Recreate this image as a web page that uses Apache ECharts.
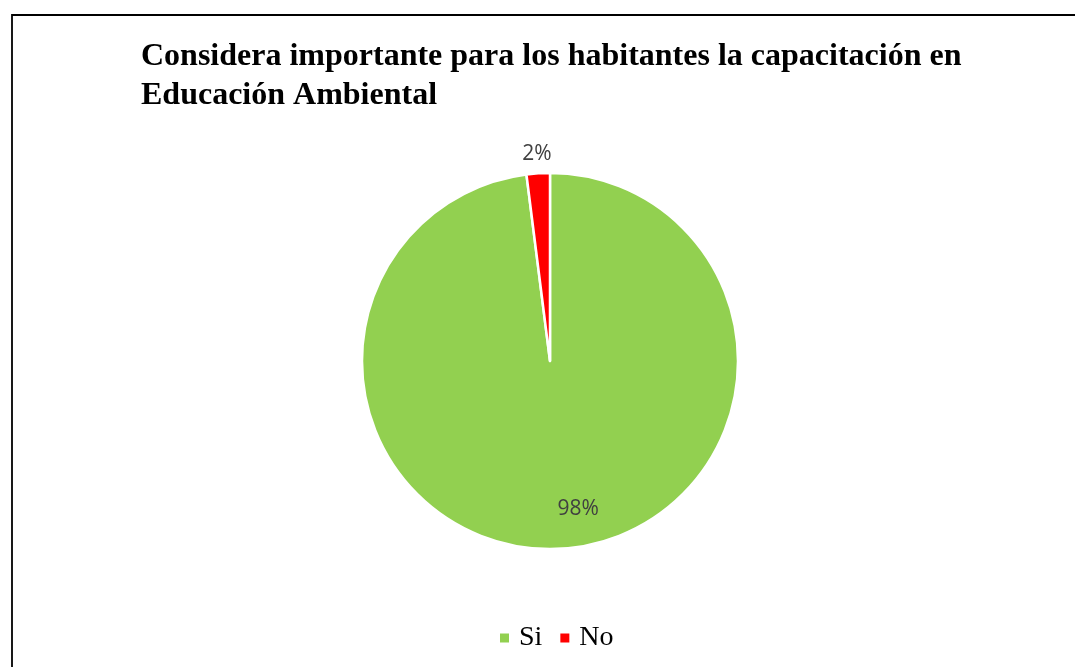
<!DOCTYPE html>
<html>
<head>
<meta charset="utf-8">
<script src="https://cdn.jsdelivr.net/npm/echarts@6/dist/echarts.min.js"></script>
<style>
  html, body { margin: 0; padding: 0; background: #fff; }
  #chart { width: 1075px; height: 667px; }
</style>
</head>
<body>
<div id="chart"></div>
<script>
// Survey answers and their shares (percent)
const categories = ['Si', 'No'];
const values = [98, 2];
const colors = ['#92D050', '#FF0000'];

const titleText = 'Considera importante para los habitantes la capacitación en\nEducación Ambiental';

const CENTER = [550, 361];
const RADIUS = 188;

const total = values.reduce((a, b) => a + b, 0);
// clockwise angle (degrees from 12 o'clock) of the middle of slice i
function midAngle(i) {
  const before = values.slice(0, i).reduce((a, b) => a + b, 0);
  return (before + values[i] / 2) / total * 360;
}
function polar(angleDeg, r) {
  const a = angleDeg * Math.PI / 180;
  return { x: CENTER[0] + r * Math.sin(a), y: CENTER[1] - r * Math.cos(a) };
}

const chart = echarts.init(document.getElementById('chart'));
chart.setOption({
  backgroundColor: '#fff',
  animation: false,
  title: {
    text: titleText,
    left: 136,
    top: 32,
    textStyle: {
      fontFamily: 'Liberation Serif',
      fontWeight: 'bold',
      fontSize: 32,
      lineHeight: 39,
      color: '#000'
    }
  },
  legend: {
    data: categories,
    left: 493,
    top: 619,
    icon: 'rect',
    itemWidth: 11,
    itemHeight: 11,
    itemGap: 16,
    textStyle: {
      fontFamily: 'Liberation Serif',
      fontSize: 28,
      color: '#000',
      padding: [0, 0, 0, 4]
    }
  },
  graphic: [{
    type: 'rect',
    shape: { x: 12, y: 15, width: 1080, height: 700 },
    style: { fill: 'none', stroke: '#000', lineWidth: 1.8 },
    silent: true
  }],
  series: [{
    type: 'pie',
    center: CENTER,
    radius: RADIUS,
    startAngle: 90,
    clockwise: true,
    avoidLabelOverlap: false,
    itemStyle: { borderColor: '#fff', borderWidth: 2.5 },
    label: {
      show: true,
      position: 'inside',
      formatter: '{d}%',
      fontFamily: 'Open Sans',
      fontSize: 21,
      color: '#404040'
    },
    labelLine: { show: false },
    labelLayout: function (params) {
      const i = params.dataIndex;
      let p;
      if (i === 0) {
        p = polar(midAngle(0) - values[1] / total * 360, RADIUS * 0.8);
      } else {
        p = polar(midAngle(i), RADIUS + 19);
      }
      return { x: p.x, y: p.y, align: 'center', verticalAlign: 'middle' };
    },
    emphasis: { disabled: true },
    data: categories.map((c, i) => ({ name: c, value: values[i], itemStyle: { color: colors[i] } }))
  }]
});
</script>
</body>
</html>
